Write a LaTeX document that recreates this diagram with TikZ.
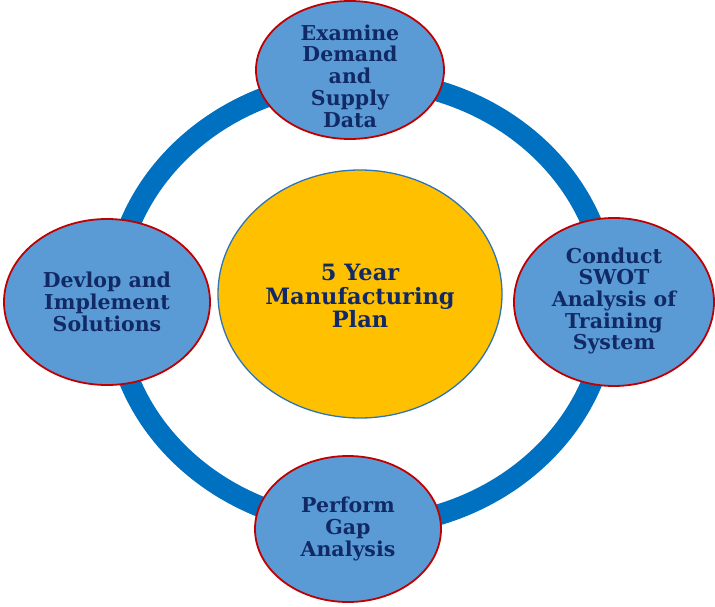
\documentclass[tikz,border=0pt]{standalone}
\usepackage{fontspec}
\setmainfont{DejaVu Serif}
\usetikzlibrary{shapes.geometric}
\definecolor{ringblue}{HTML}{0070C0}
\definecolor{satfill}{HTML}{5B9BD5}
\definecolor{satedge}{HTML}{C00000}
\definecolor{hubfill}{HTML}{FFC000}
\definecolor{hubedge}{HTML}{2E75B6}
\definecolor{txt}{HTML}{112A66}
\tikzset{
  sat/.style={ellipse, draw=satedge, line width=1.8pt, fill=satfill, inner sep=0pt},
  hub/.style={ellipse, draw=hubedge, line width=1.3pt, fill=hubfill, inner sep=0pt},
  lbl/.style={align=center, text=txt, font=\bfseries\fontsize{20.5}{21.7}\selectfont, inner sep=0pt},
  hublbl/.style={align=center, text=txt, font=\bfseries\fontsize{22.5}{23.5}\selectfont, inner sep=0pt},
}
\begin{document}
\begin{tikzpicture}[x=1pt,y=-1pt]
\useasboundingbox (0,0) rectangle (715,607);
\draw[ringblue, line width=21pt] (361,303) ellipse [x radius=247, y radius=223];
\node[hub, minimum width=284pt, minimum height=248pt] (hub) at (360,294) {};
\node[hublbl] (hubT) at (360,296) {5 Year\\Manufacturing\\Plan};
\node[sat, minimum width=188pt, minimum height=138pt] (top) at (350,70) {};
\node[lbl] (topT) at (350,76) {Examine\\Demand\\and\\Supply\\Data};
\node[sat, minimum width=200pt, minimum height=168pt] (right) at (614,302) {};
\node[lbl] (rightT) at (614,301) {Conduct\\SWOT\\Analysis of\\Training\\System};
\node[sat, minimum width=206pt, minimum height=166pt] (left) at (107,302) {};
\node[lbl] (leftT) at (107,302) {Devlop and\\Implement\\Solutions};
\node[sat, minimum width=186pt, minimum height=146pt] (bottom) at (348,529) {};
\node[lbl] (bottomT) at (348,529) {Perform\\Gap\\Analysis};
\end{tikzpicture}
\end{document}
